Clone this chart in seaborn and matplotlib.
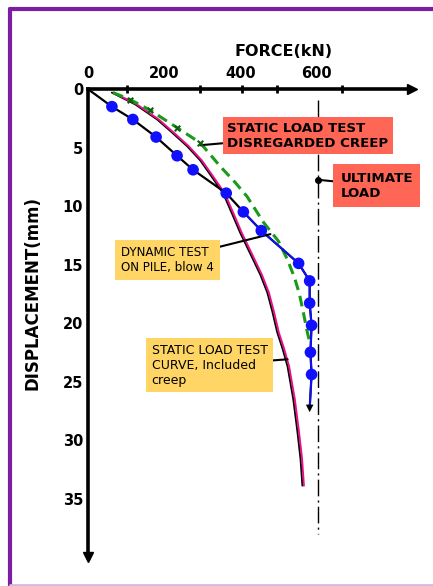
import pandas as pd
import seaborn as sns
import matplotlib.pyplot as plt
from matplotlib.lines import Line2D
from matplotlib.transforms import ScaledTranslation

# dynamic test on pile, blow 4 (force kN, displacement mm)
dyn_force = [0, 63, 118, 179, 234, 276, 363, 408, 455, 553, 582, 582, 587, 584, 587, 582]
dyn_disp = [0, 1.5, 2.6, 4.1, 5.7, 6.9, 8.9, 10.5, 12.1, 14.9, 16.4, 18.3, 20.2, 22.5, 24.4, 27.3]

# static load test, disregarded creep
dis_force = [66, 111, 163, 234, 295, 347, 387, 418, 461, 500, 524, 542, 555, 566, 576, 582]
dis_disp = [0.3, 0.9, 1.8, 3.3, 4.6, 6.6, 8.0, 9.2, 11.4, 13.0, 14.6, 16.1, 17.5, 19.2, 20.8, 21.6]

# static load test curve, included creep
inc_force = [63, 124, 182, 224, 261, 295, 321, 355, 379, 400, 434, 453, 471, 484, 497,
             511, 524, 539, 550, 558, 563]
inc_disp = [0.3, 1.3, 2.6, 3.8, 4.9, 6.1, 7.3, 8.9, 10.7, 12.3, 14.6, 15.9, 17.4, 19.0, 20.8,
            22.2, 23.7, 26.5, 29.3, 31.6, 33.9]

ult_load = 603
ult_span = [0.9, 38.0]

x_ticks = [0, 200, 400, 600]
x_minor = [103, 295, 405, 495, 668]
y_ticks = [0, 5, 10, 15, 20, 25, 30, 35]

RED = '#FF6655'
YEL = '#FFD666'

dyn = pd.DataFrame({'force': dyn_force, 'disp': dyn_disp})
dis = pd.DataFrame({'force': dis_force, 'disp': dis_disp})
inc = pd.DataFrame({'force': inc_force, 'disp': inc_disp})

sns.set_style('white')
plt.rcParams['font.family'] = ['DejaVu Sans']
plt.rcParams['text.color'] = 'black'
plt.rcParams['xtick.color'] = 'black'
plt.rcParams['ytick.color'] = 'black'

fig = plt.figure(figsize=(4.33, 5.86), dpi=100)
ax = fig.add_axes([0.203, 0.0495, 0.748, 0.7985])

line = dict(x='force', y='disp', sort=False, estimator=None, ax=ax)

# static curve with creep: black trace with magenta beside it
sns.lineplot(data=inc, color='black', lw=1.4, **line)
sns.lineplot(data=inc, color='#E8108A', lw=1.4, **line)
ax.lines[-1].set_transform(ax.transData + ScaledTranslation(1.5 / 100, 0, fig.dpi_scale_trans))

# static curve, creep disregarded
sns.lineplot(data=dis, color='#1A9A1A', lw=2.2, **line)
ax.lines[-1].set_dashes((3.5, 2))
sns.scatterplot(data=dis.iloc[1:5], x='force', y='disp', marker='x', s=16,
                color='#0E5E0E', linewidth=1.5, ax=ax, zorder=4)

# dynamic test
sns.lineplot(data=dyn, color='black', lw=1.6, **line)
sns.lineplot(data=dyn.iloc[7:], color='#1010FF', lw=1.4, **line)
sns.scatterplot(data=dyn.iloc[1:-1], x='force', y='disp', color='#1010FF', s=70,
                edgecolor='none', ax=ax, zorder=5)
sns.scatterplot(data=dyn.iloc[-1:], x='force', y='disp', marker='v', color='black', s=30,
                edgecolor='none', ax=ax, zorder=5)

# ultimate load line
ax.vlines(ult_load, ult_span[0], ult_span[1], colors='black', lw=1.0,
          linestyles=[(0, (12, 3, 1.5, 3))])

ax.set_xlim(0, 850)
ax.set_ylim(40, 0)
ax.set_xlabel('')
ax.set_ylabel('')

for s in ['right', 'bottom']:
    ax.spines[s].set_visible(False)
for s in ['top', 'left']:
    ax.spines[s].set_linewidth(2.6)
    ax.spines[s].set_color('black')
ax.xaxis.tick_top()
ax.set_xticks(x_ticks)
ax.set_xticks(x_minor, minor=True)
ax.set_yticks(y_ticks)
ax.tick_params(axis='x', which='major', length=0, pad=6)
ax.tick_params(axis='x', which='minor', direction='inout', length=6, width=2)
ax.tick_params(axis='y', direction='inout', length=5, width=2, pad=1)
for lab in ax.get_xticklabels() + ax.get_yticklabels():
    lab.set_fontsize(10.5)
    lab.set_fontweight('bold')

# axis arrow heads
ax.plot([1], [1], marker='>', color='black', ms=7, transform=ax.transAxes, clip_on=False)
ax.plot([0], [0], marker='v', color='black', ms=7, transform=ax.transAxes, clip_on=False)

fig.text(0.654, 0.912, 'FORCE(kN)', ha='center', va='center', fontsize=11.5, fontweight='bold')
fig.text(0.076, 0.50, 'DISPLACEMENT(mm)', ha='center', va='center', rotation=90,
         fontsize=12, fontweight='bold')

arrow = dict(arrowstyle='-', color='black', lw=1.5, shrinkA=0, shrinkB=0)

ax.annotate('STATIC LOAD TEST\nDISREGARDED CREEP', xy=(295, 4.8), xytext=(366, 4.0),
            ha='left', va='center', fontsize=9.6, fontweight='bold', linespacing=1.15,
            bbox=dict(boxstyle='square,pad=0.35', fc=RED, ec='none'), arrowprops=arrow)
ax.annotate('ULTIMATE\nLOAD', xy=(ult_load, 7.75), xytext=(663, 8.26),
            ha='left', va='center', fontsize=9.6, fontweight='bold', linespacing=1.2,
            bbox=dict(boxstyle='square,pad=0.55', fc=RED, ec='none'), arrowprops=arrow)
ax.plot([ult_load], [7.75], 'o', color='black', ms=4)
ax.annotate('DYNAMIC TEST\nON PILE, blow 4', xy=(479, 12.4), xytext=(86, 14.6),
            ha='left', va='center', fontsize=8.6, linespacing=1.25,
            bbox=dict(boxstyle='square,pad=0.5', fc=YEL, ec='none'), arrowprops=arrow)
ax.annotate('STATIC LOAD TEST\nCURVE, Included\ncreep', xy=(524, 23.1), xytext=(167, 23.6),
            ha='left', va='center', fontsize=9.0, linespacing=1.2,
            bbox=dict(boxstyle='square,pad=0.45', fc=YEL, ec='none'), arrowprops=arrow)

# purple frame
fig.add_artist(Line2D([0.023, 0.023], [0.0, 0.984], color='#7B1FA2', lw=3))
fig.add_artist(Line2D([0.023, 1.0], [0.984, 0.984], color='#7B1FA2', lw=3))
fig.add_artist(Line2D([0.023, 1.0], [0.002, 0.002], color='#D4B8E0', lw=2))

fig.savefig('out.png', dpi=100)
